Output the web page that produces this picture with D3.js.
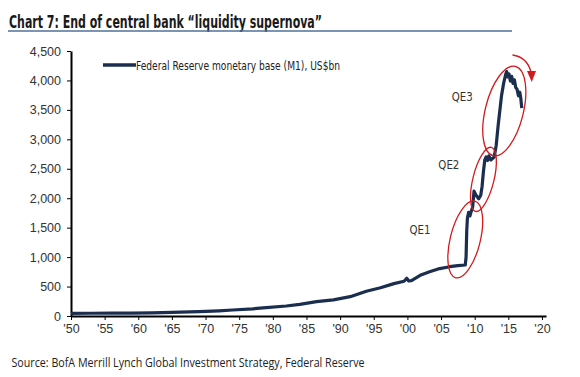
<!DOCTYPE html>
<html><head><meta charset="utf-8">
<script src="https://cdn.jsdelivr.net/npm/d3@7"></script>
<style>
html,body{margin:0;padding:0;background:#fff;}
svg{display:block;}
text{font-family:"Liberation Sans Narrow","Arial Narrow","DejaVu Sans Condensed",sans-serif;}
</style></head>
<body>
<svg id="c" width="580" height="377"></svg>
<script>
const titleText = "Chart 7: End of central bank \u201cliquidity supernova\u201d";
const sourceText = "Source: BofA Merrill Lynch Global Investment Strategy, Federal Reserve";
const seriesName = "Federal Reserve monetary base (M1), US$bn";
const xTickYears = [1950,1955,1960,1965,1970,1975,1980,1985,1990,1995,2000,2005,2010,2015,2020];
const xTickLabels = ["'50","'55","'60","'65","'70","'75","'80","'85","'90","'95","'00","'05","'10","'15","'20"];
const yTicks = [0,500,1000,1500,2000,2500,3000,3500,4000,4500];
const years = [1950,1953,1956,1959,1962,1965,1969,1972,1974,1977,1979,1982,1984,1986.5,1989,1991.5,1993.9,1996,1998,1999.5,1999.9,2000.2,2000.6,2001.9,2003.3,2004.8,2006.3,2007.5,2008.6,2008.72,2008.82,2008.92,2009.1,2009.3,2009.5,2009.7,2009.9,2010.2,2010.6,2010.9,2011.1,2011.3,2011.5,2011.7,2011.9,2012.1,2012.4,2012.6,2012.9,2013.2,2013.5,2013.8,2014.0,2014.3,2014.6,2014.75,2014.9,2015.1,2015.3,2015.5,2015.7,2015.9,2016.1,2016.3,2016.5,2016.7,2016.85,2017.0];
const values = [46,47,48,49,52,60,73,88,102,122,141,170,198,243,275,328,420,480,550,590,640,595,600,690,750,805,837,855,866,1000,1450,1664,1760,1700,1780,1850,2120,2050,1990,2050,2200,2450,2650,2700,2640,2720,2650,2670,2700,2900,3250,3550,3750,3950,4100,4150,4060,4110,3990,4070,3950,4010,3880,3850,3740,3800,3700,3530];
const qeLabels = ["QE1","QE2","QE3"];

const svg = d3.select("#c");
const navy = "#1b2e4f";
const red = "#d01c1f";

// title
svg.append("text").attr("x",9).attr("y",28).attr("font-size",17).attr("font-weight","bold")
  .attr("fill","#1a1a1a").attr("textLength",313).attr("lengthAdjust","spacingAndGlyphs").text(titleText);
svg.append("line").attr("x1",8).attr("x2",512).attr("y1",31).attr("y2",31)
  .attr("stroke","#50709a").attr("stroke-width",1.6);

const x = d3.scaleLinear().domain([1950,2020.6]).range([71,546]);
const y = d3.scaleLinear().domain([0,4500]).range([316,51]);

// y axis
const ya = svg.append("g").attr("transform","translate(71,0)")
  .call(d3.axisLeft(y).tickValues(yTicks).tickSize(4).tickSizeOuter(0).tickPadding(6).tickFormat(d3.format(",")));
ya.select(".domain").attr("stroke","#000").attr("stroke-width",2);
ya.selectAll(".tick line").attr("stroke","#000");
ya.selectAll(".tick text").attr("font-size",12.5).attr("fill","#333")
  .style("font-family",'"Liberation Sans Narrow","Arial Narrow",sans-serif');

// x axis
const xa = svg.append("g").attr("transform","translate(0,316)")
  .call(d3.axisBottom(x).tickValues(xTickYears).tickSize(4).tickSizeOuter(0).tickPadding(4)
    .tickFormat((d,i)=>xTickLabels[i]));
xa.select(".domain").attr("stroke","#000").attr("stroke-width",2);
xa.selectAll(".tick line").attr("stroke","#000");
xa.selectAll(".tick text").attr("font-size",12.5).attr("fill","#333")
  .style("font-family",'"Liberation Sans Narrow","Arial Narrow",sans-serif');

// series
const data = years.map((yr,i)=>({yr, v:values[i]}));
svg.append("path").datum(data)
  .attr("fill","none").attr("stroke",navy).attr("stroke-width",3.2).attr("stroke-linejoin","round")
  .attr("d", d3.line().x(d=>x(d.yr)).y(d=>y(d.v)));

// legend
svg.append("line").attr("x1",103).attr("x2",136).attr("y1",65).attr("y2",65)
  .attr("stroke",navy).attr("stroke-width",3.5);
svg.append("text").attr("x",136).attr("y",69.5).attr("font-size",13).attr("fill","#222")
  .attr("textLength",204).attr("lengthAdjust","spacingAndGlyphs").text(seriesName);

// ellipses
const ells = [
  {cx:x(2008.6), cy:y(1300), rx:15, ry:39.5, rot:14},
  {cx:x(2011.3), cy:y(2320), rx:10.5, ry:33, rot:14},
  {cx:x(2014.4), cy:y(3480), rx:19, ry:46, rot:14}
];
ells.forEach(e=>{
  svg.append("ellipse").attr("cx",0).attr("cy",0).attr("rx",e.rx).attr("ry",e.ry)
    .attr("transform",`translate(${e.cx},${e.cy}) rotate(${e.rot})`)
    .attr("fill","none").attr("stroke",red).attr("stroke-width",1.3);
});
// labels
const lblPos = [[x(2000.3), y(1390)],[x(2004.6), y(2490)],[x(2006.6), y(3650)]];
qeLabels.forEach((t,i)=>{
  svg.append("text").attr("x",lblPos[i][0]).attr("y",lblPos[i][1]).attr("font-size",13).attr("fill","#333")
    .attr("textLength",21).attr("lengthAdjust","spacingAndGlyphs").text(t);
});

// arrow
svg.append("path").attr("d","M512.5,55 Q527,57 531,72").attr("fill","none").attr("stroke",red).attr("stroke-width",1.4);
svg.append("path").attr("d","M527,71 L536,71 L531.7,82 Z").attr("fill",red);

// source
svg.append("text").attr("x",11.5).attr("y",366.5).attr("font-size",13.5).attr("fill","#222")
  .attr("textLength",353).attr("lengthAdjust","spacingAndGlyphs")
  .style("font-family",'"Open Sans","Liberation Sans Narrow",sans-serif').text(sourceText);
</script>
</body></html>
